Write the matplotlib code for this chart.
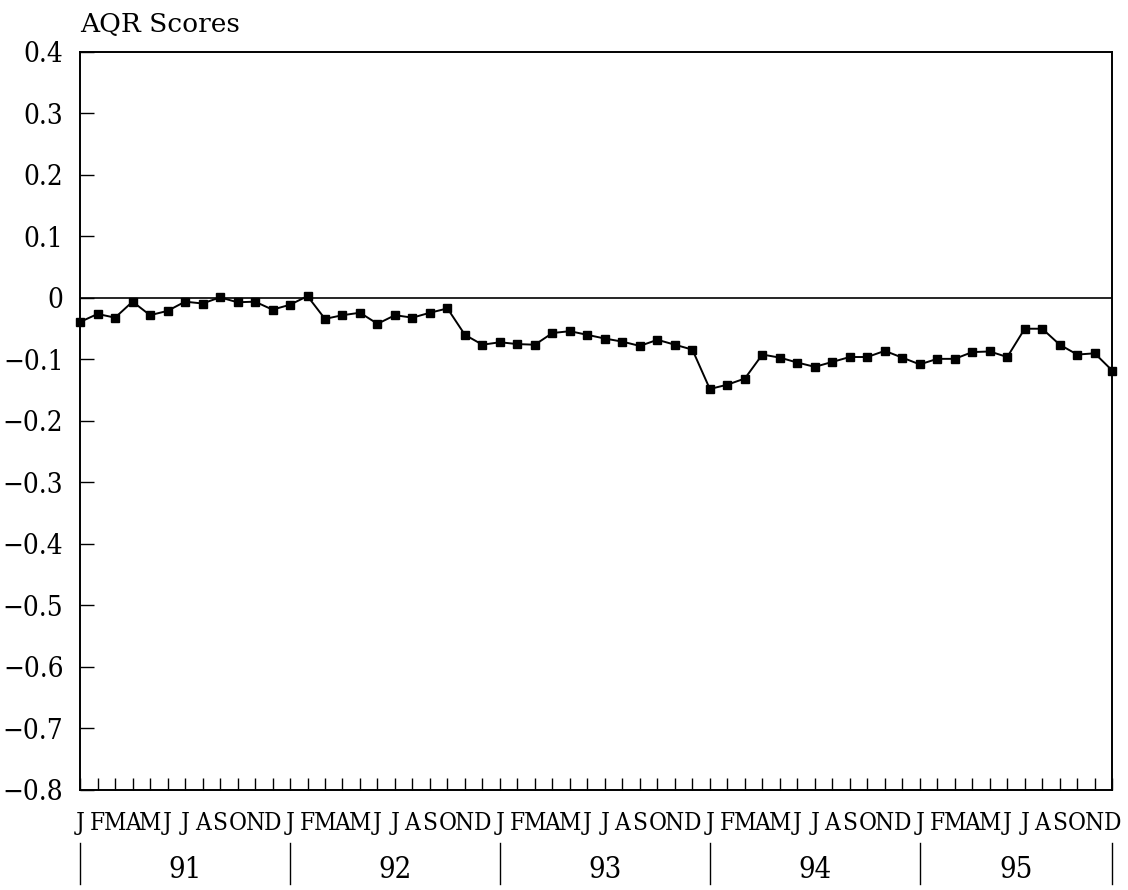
import matplotlib
matplotlib.use("Agg")
import matplotlib.pyplot as plt
import matplotlib.transforms as mtransforms

# ---- data ----
years = ["91", "92", "93", "94", "95"]
month_letters = ["J", "F", "M", "A", "M", "J", "J", "A", "S", "O", "N", "D"]
aqr_scores = [
    -0.039, -0.026, -0.032, -0.006, -0.028, -0.021, -0.006, -0.009, 0.001, -0.007, -0.006, -0.019,
    -0.011, 0.003, -0.034, -0.028, -0.024, -0.042, -0.028, -0.032, -0.024, -0.017, -0.060, -0.076,
    -0.072, -0.075, -0.076, -0.057, -0.054, -0.060, -0.066, -0.071, -0.078, -0.068, -0.076, -0.084,
    -0.148, -0.141, -0.131, -0.092, -0.097, -0.105, -0.112, -0.104, -0.096, -0.096, -0.086, -0.097,
    -0.108, -0.099, -0.099, -0.088, -0.087, -0.096, -0.050, -0.050, -0.076, -0.092, -0.090, -0.118,
]
y_ticks = [0.4, 0.3, 0.2, 0.1, 0.0, -0.1, -0.2, -0.3, -0.4, -0.5, -0.6, -0.7, -0.8]

plt.rcParams['font.family'] = ['DejaVu Serif']
plt.rcParams['axes.unicode_minus'] = True

fig = plt.figure(figsize=(11.28, 8.90), dpi=100)
ax = fig.add_axes([0.071, 0.1124, 0.915, 0.8292])

x = list(range(len(aqr_scores)))
ax.plot(x, aqr_scores, color='black', linewidth=1.4, marker='s', markersize=6, zorder=3,
        clip_on=False)
ax.axhline(0, color='black', linewidth=1.2, zorder=2)

ax.set_xlim(0, len(aqr_scores) - 1)
ax.set_ylim(-0.8, 0.4)

ax.set_yticks(y_ticks)
ax.set_yticklabels(["0" if abs(v) < 1e-9 else ("%.1f" % v).replace("-", "\u2212") for v in y_ticks])
ax.tick_params(axis='y', direction='in', length=10, width=1.0, pad=12, labelsize=20, right=False)
for lab in ax.get_yticklabels():
    lab.set_fontstretch('condensed')

labels = [month_letters[i % 12] for i in x]
ax.set_xticks(x)
ax.set_xticklabels(labels)
ax.tick_params(axis='x', direction='in', length=9, width=1.0, pad=16, labelsize=17.5, top=False)
for lab in ax.get_xticklabels():
    lab.set_fontstretch('condensed')

for sp in ax.spines.values():
    sp.set_linewidth(1.4)
    sp.set_color('black')

trans = mtransforms.blended_transform_factory(ax.transData, ax.transAxes)
n_years = len(years)
seps = [12 * i for i in range(n_years)] + [len(aqr_scores) - 1]
for s in seps:
    ax.plot([s, s], [-0.072, -0.128], transform=trans, color='black', linewidth=1.0,
            clip_on=False)
for i, yr in enumerate(years):
    cx = (seps[i] + seps[i + 1]) / 2.0
    ax.text(cx, -0.108, yr, transform=trans, ha='center', va='center', fontsize=21,
            fontstretch='condensed')

fig.text(0.071, 0.972, "AQR Scores", ha='left', va='center', fontsize=19)

fig.savefig("out.png", dpi=100, facecolor='white')
